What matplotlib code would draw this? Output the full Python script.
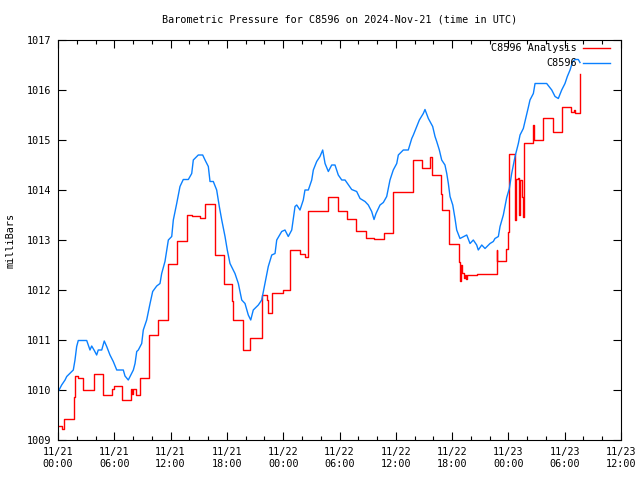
import matplotlib
matplotlib.use("Agg")
import matplotlib.pyplot as plt
from matplotlib.ticker import MultipleLocator

# 观测值 C8596 (时间: 从 11/21 00:00 起的小时数, 气压 mb)
obs_hours = [0.03, 0.39, 0.75, 0.93, 1.63, 1.81, 1.99, 2.16, 3.06, 3.23, 3.41, 3.59, 3.87,
             4.12, 4.29, 4.66, 4.93, 5.19, 5.54, 5.89, 6.26, 6.96, 7.14, 7.49, 8.03, 8.21,
             8.39, 8.56, 8.92, 9.09, 9.45, 9.81, 10.09, 10.52, 10.87, 11.05, 11.40, 11.76,
             12.12, 12.29, 12.65, 13.00, 13.35, 13.89, 14.25, 14.42, 14.95, 15.42, 15.67,
             16.02, 16.20, 16.55, 16.91, 17.19, 17.45, 17.80, 18.04, 18.33, 18.86, 19.22,
             19.58, 19.93, 20.28, 20.54, 20.81, 21.35, 21.71, 22.06, 22.41, 22.78, 23.13,
             23.31, 23.84, 24.19, 24.54, 24.91, 25.26, 25.44, 25.79, 26.14, 26.32, 26.68,
             27.04, 27.21, 27.57, 27.92, 28.21, 28.46, 28.81, 29.17, 29.52, 29.87, 30.24,
             30.59, 31.30, 31.83, 32.19, 32.72, 33.07, 33.43, 33.68, 33.89, 34.32, 34.67,
             35.03, 35.38, 35.73, 36.10, 36.27, 36.80, 37.33, 37.70, 37.87, 38.29, 38.51,
             38.93, 39.11, 39.47, 39.93, 40.18, 40.36, 40.64, 40.89, 41.24, 41.43, 41.60,
             41.78, 42.07, 42.31, 42.49, 42.84, 43.56, 43.91, 44.26, 44.62, 44.79, 45.16,
             45.51, 46.04, 46.39, 46.57, 46.93, 47.11, 47.46, 47.82, 48.10, 48.35, 48.71,
             49.06, 49.24, 49.59, 49.77, 50.12, 50.30, 50.66, 50.84, 52.08, 52.62, 52.97,
             53.32, 53.68, 54.03, 54.28, 54.57, 54.85, 55.10, 55.45, 55.63]
obs_mb = [1009.97, 1010.10, 1010.20, 1010.27, 1010.40, 1010.60, 1010.87, 1010.99, 1010.99,
          1010.90, 1010.80, 1010.88, 1010.79, 1010.70, 1010.80, 1010.80, 1010.98, 1010.87,
          1010.70, 1010.57, 1010.40, 1010.40, 1010.28, 1010.20, 1010.40, 1010.53, 1010.77,
          1010.80, 1010.93, 1011.20, 1011.40, 1011.73, 1011.97, 1012.08, 1012.13, 1012.33,
          1012.57, 1013.00, 1013.07, 1013.40, 1013.73, 1014.07, 1014.21, 1014.21, 1014.33,
          1014.60, 1014.70, 1014.70, 1014.60, 1014.47, 1014.17, 1014.17, 1014.00, 1013.67,
          1013.40, 1013.07, 1012.80, 1012.53, 1012.33, 1012.13, 1011.80, 1011.73, 1011.50,
          1011.40, 1011.60, 1011.70, 1011.80, 1012.13, 1012.47, 1012.70, 1012.73, 1013.00,
          1013.17, 1013.20, 1013.07, 1013.20, 1013.67, 1013.70, 1013.60, 1013.80, 1014.00,
          1014.00, 1014.20, 1014.40, 1014.57, 1014.67, 1014.80, 1014.53, 1014.37, 1014.50,
          1014.50, 1014.30, 1014.20, 1014.20, 1014.01, 1013.97, 1013.83, 1013.77, 1013.70,
          1013.57, 1013.41, 1013.53, 1013.70, 1013.75, 1013.87, 1014.20, 1014.40, 1014.53,
          1014.70, 1014.80, 1014.80, 1015.03, 1015.10, 1015.30, 1015.40, 1015.53, 1015.61,
          1015.43, 1015.27, 1015.07, 1014.97, 1014.80, 1014.60, 1014.50, 1014.33, 1014.13,
          1013.87, 1013.70, 1013.43, 1013.20, 1013.03, 1013.10, 1012.93, 1013.00, 1012.90,
          1012.80, 1012.90, 1012.83, 1012.93, 1012.97, 1013.03, 1013.07, 1013.27, 1013.50,
          1013.85, 1014.03, 1014.33, 1014.67, 1014.93, 1015.10, 1015.23, 1015.37, 1015.65,
          1015.80, 1015.93, 1016.13, 1016.13, 1016.00, 1015.87, 1015.83, 1016.00, 1016.13,
          1016.27, 1016.40, 1016.57, 1016.61, 1016.61, 1016.55]

# 分析值 C8596 Analysis (阶梯)
ana_hours = [0.00, 0.39, 0.67, 1.71, 1.81, 2.10, 2.70, 3.80, 4.76, 5.79, 6.00, 6.79, 7.75,
             7.92, 8.03, 8.28, 8.74, 9.73, 10.69, 11.76, 12.72, 13.72, 14.25, 15.13, 15.70,
             16.73, 17.72, 18.51, 18.69, 19.75, 20.46, 21.71, 22.24, 22.41, 22.78, 23.95,
             24.73, 25.79, 26.32, 26.68, 28.74, 29.81, 30.77, 31.76, 32.82, 33.71, 34.78,
             35.73, 37.78, 38.77, 39.69, 39.83, 40.79, 40.89, 41.72, 42.77, 42.82, 42.95,
             43.10, 43.26, 43.42, 43.53, 43.62, 44.62, 46.75, 46.82, 47.75, 47.99, 48.10,
             48.71, 48.76, 49.06, 49.16, 49.24, 49.42, 49.52, 49.59, 49.70, 50.66, 50.76,
             51.72, 52.72, 53.75, 54.64, 54.99, 55.15, 55.63]
ana_mb = [1009.28, 1009.23, 1009.43, 1009.87, 1010.29, 1010.25, 1010.00, 1010.33, 1009.90,
          1010.03, 1010.08, 1009.80, 1010.03, 1009.93, 1010.03, 1009.91, 1010.25, 1011.10,
          1011.40, 1012.53, 1012.98, 1013.51, 1013.48, 1013.45, 1013.72, 1012.71, 1012.12,
          1011.79, 1011.40, 1010.80, 1011.05, 1011.90, 1011.80, 1011.55, 1011.95, 1012.01,
          1012.80, 1012.72, 1012.67, 1013.59, 1013.87, 1013.59, 1013.43, 1013.18, 1013.05,
          1013.02, 1013.15, 1013.97, 1014.60, 1014.45, 1014.67, 1014.30, 1013.93, 1013.60,
          1012.93, 1012.57, 1012.19, 1012.50, 1012.35, 1012.25, 1012.30, 1012.22, 1012.30,
          1012.33, 1012.81, 1012.59, 1012.83, 1013.17, 1014.73, 1013.40, 1014.23, 1014.25,
          1013.50, 1014.20, 1013.87, 1013.60, 1013.47, 1014.95, 1015.30, 1015.00, 1015.45,
          1015.17, 1015.67, 1015.57, 1015.60, 1015.55, 1016.33]

tick_hours = [0, 6, 12, 18, 24, 30, 36, 42, 48, 54, 60]
tick_labels = ["11/21\n00:00", "11/21\n06:00", "11/21\n12:00", "11/21\n18:00",
               "11/22\n00:00", "11/22\n06:00", "11/22\n12:00", "11/22\n18:00",
               "11/23\n00:00", "11/23\n06:00", "11/23\n12:00"]

red = "#ff0000"
blue = "#0a80ff"
fs = 7.3
plt.rcParams["font.family"] = ["DejaVu Sans Mono"]

fig = plt.figure(figsize=(6.4, 4.8), dpi=100)
ax = fig.add_axes([58 / 640, 40 / 480, 563 / 640, 400 / 480])

ax.plot(ana_hours, ana_mb, color=red, lw=1.0, drawstyle="steps-post")
ax.plot(obs_hours, obs_mb, color=blue, lw=1.0)

ax.set_xlim(0, 60)
ax.set_ylim(1009, 1017)
ax.set_xticks(tick_hours)
ax.set_xticklabels(tick_labels, fontsize=fs, linespacing=1.25)
ax.xaxis.set_minor_locator(MultipleLocator(2))
ax.yaxis.set_major_locator(MultipleLocator(1))
ax.tick_params(axis="both", which="major", direction="in", length=6, width=0.8,
               top=True, right=True, labelsize=fs, pad=5)
ax.tick_params(axis="x", which="minor", direction="in", length=3, width=0.8, top=True)
for s in ax.spines.values():
    s.set_linewidth(0.8)

ax.set_ylabel("milliBars", fontsize=fs)
ax.yaxis.set_label_coords(-0.076, 0.5)
fig.text(339.5 / 640, 1 - 20 / 480, "Barometric Pressure for C8596 on 2024-Nov-21 (time in UTC)",
         ha="center", va="center", fontsize=fs)

# 图例 (文字右对齐, 线段在右)
for yy, label, c in [(0.98, "C8596 Analysis", red), (0.9425, "C8596", blue)]:
    ax.text(0.922, yy, label, transform=ax.transAxes, ha="right", va="center", fontsize=fs)
    ax.plot([0.9325, 0.9805], [yy, yy], transform=ax.transAxes, color=c, lw=1.0)

fig.savefig("out.png", dpi=100)
